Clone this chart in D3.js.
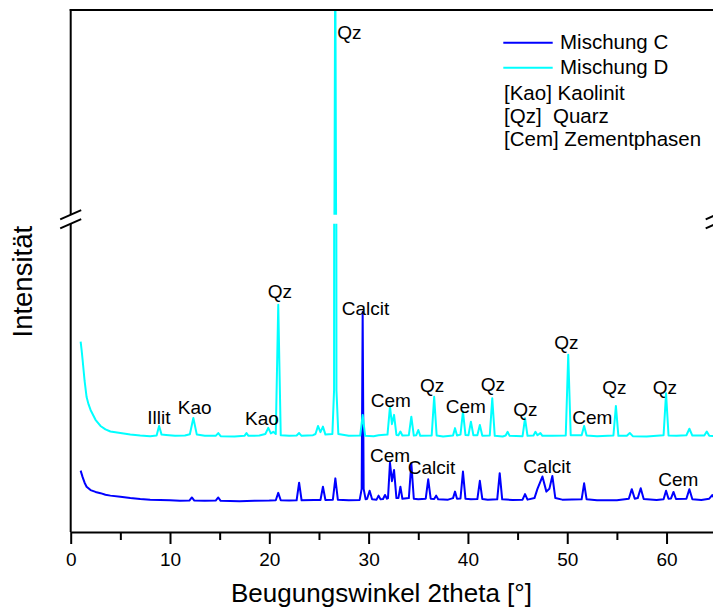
<!DOCTYPE html>
<html>
<head>
<meta charset="utf-8">
<script src="https://cdn.jsdelivr.net/npm/d3@7"></script>
<style>
  html, body { margin: 0; padding: 0; background: #fff; }
  svg { display: block; font-family: "Liberation Sans", Arial, sans-serif; }
  text { white-space: pre; }
</style>
</head>
<body>
<svg id="chart" width="713" height="609"></svg>
<script>
// XRD patterns: [2theta in degrees, intensity in counts]
const mischungC = [
  [1.0,199],[1.2,178],[1.4,160],[1.6,147],[2.0,136],[2.5,130],[3.0,126],[3.5,121],[4.0,118],
  [5.0,114],[6.0,110],[7.0,107],[8.0,105],[9.0,104],[10.0,103],[11.0,101],[11.95,102],[12.2,112],
  [12.45,102],[13.5,101],[14.6,102],[14.86,112],[15.1,101],[17.0,100],[18.5,101],[20.0,102],
  [20.65,103],[20.9,127],[21.15,103],[22.0,102],[22.75,103],[23.0,160],[23.25,103],[24.5,104],
  [25.15,104],[25.4,147],[25.65,104],[26.4,105],[26.65,174],[26.9,105],[28.0,103],[29.1,104],
  [29.3,140],[29.4,714],[29.5,140],[29.7,106],[29.85,108],[30.1,134],[30.35,106],[30.8,105],
  [31.0,118],[31.2,106],[31.45,107],[31.65,120],[31.85,108],[31.95,110],[32.15,225],[32.35,165],
  [32.56,201],[32.8,110],[33.0,110],[33.2,147],[33.4,108],[34.05,110],[34.3,223],[34.55,108],
  [35.0,106],[35.75,108],[36.0,171],[36.25,108],[36.6,107],[36.8,118],[37.0,106],[38.0,105],
  [38.5,110],[38.7,131],[38.9,108],[39.25,109],[39.5,196],[39.75,108],[40.3,106],[40.95,107],
  [41.2,166],[41.45,107],[42.0,105],[42.95,106],[43.2,191],[43.45,106],[44.5,104],[45.5,105],
  [45.75,123],[46.0,105],[46.7,110],[47.0,140],[47.5,180],[47.9,131],[48.2,140],[48.5,182],
  [48.8,110],[49.5,105],[51.45,106],[51.7,158],[51.95,106],[53.0,103],[55.0,103],[56.2,108],
  [56.5,139],[56.8,108],[57.1,110],[57.4,142],[57.7,107],[59.0,104],[59.7,106],[59.95,134],
  [60.2,108],[60.45,109],[60.7,130],[60.95,107],[62.0,108],[62.3,139],[62.6,106],[63.5,104],
  [64.3,108],[64.6,120],[64.9,106],[66.0,104]
];

const mischungD = [
  [1.0,418],[1.1,390],[1.2,358],[1.4,290],[1.6,238],[1.8,214],[2.0,196],[2.5,164],[3.0,144],
  [3.5,133],[4.0,126],[5.0,121],[6.0,116],[7.0,113],[8.0,111],[8.65,113],[8.9,144],[9.15,116],
  [9.6,115],[10.5,112],[11.5,113],[12.0,117],[12.35,170],[12.7,116],[13.5,112],[14.6,112],
  [14.86,121],[15.1,111],[16.5,110],[17.5,112],[17.7,121],[17.9,112],[19.0,113],[19.6,118],
  [19.9,138],[20.15,120],[20.4,125],[20.65,118],[20.9,537],[21.15,114],[22.0,112],[22.75,113],
  [23.0,121],[23.25,112],[24.4,114],[24.65,118],[24.9,144],[25.15,124],[25.4,142],[25.65,116],
  [26.35,118],[26.52,260],[26.64,7000],[26.76,260],[26.95,118],[28.0,112],[29.15,113],[29.4,180],
  [29.65,112],[30.5,111],[31.0,114],[31.9,116],[32.15,207],[32.35,150],[32.56,180],[32.8,115],
  [33.0,114],[33.2,126],[33.4,113],[34.05,114],[34.3,174],[34.55,113],[34.8,114],[35.0,131],
  [35.2,112],[36.35,113],[36.6,239],[36.85,113],[37.5,110],[38.5,113],[38.7,137],[38.9,113],
  [39.25,116],[39.5,191],[39.75,115],[40.05,114],[40.3,158],[40.55,114],[40.95,114],[41.2,147],
  [41.45,112],[42.2,113],[42.45,234],[42.7,112],[43.5,110],[43.8,113],[44.0,125],[44.2,112],
  [45.5,111],[45.75,169],[46.0,112],[46.6,113],[46.8,125],[47.0,114],[47.3,121],[47.5,112],
  [48.5,112],[49.85,113],[50.1,375],[50.35,114],[51.45,114],[51.7,144],[51.95,113],[53.0,111],
  [54.65,113],[54.9,209],[55.15,112],[56.0,112],[56.3,121],[56.6,111],[58.0,110],[59.7,114],
  [59.95,250],[60.2,113],[61.0,112],[62.0,114],[62.3,135],[62.6,113],[63.8,113],[64.05,126],
  [64.3,112],[66.0,111]
];

// vertical shift applied to Mischung D so both patterns are readable
const offsetD = 200;

const seriesNames = ["Mischung C", "Mischung D"];
const seriesColors = ["#0000ff", "#00ffff"];

// phase legend lines
const phaseLegend = ["[Kao] Kaolinit", "[Qz]  Quarz", "[Cem] Zementphasen"];

// peak annotations: text, 2theta of left edge, intensity of baseline (plotted units)
const peakLabels = [
  ["Illit", 7.71, 351], ["Kao", 10.78, 383], ["Kao", 17.55, 347], ["Qz", 19.84, 758],
  ["Calcit", 27.29, 703], ["Cem", 30.21, 406], ["Qz", 35.18, 455], ["Cem", 37.76, 385],
  ["Qz", 41.29, 459], ["Qz", 44.57, 378], ["Qz", 48.70, 594], ["Cem", 50.51, 351],
  ["Qz", 53.53, 448], ["Qz", 58.61, 448],
  ["Cem", 30.14, 226], ["Calcit", 33.94, 188], ["Calcit", 45.58, 190], ["Cem", 59.17, 149]
];
// label in the upper (broken) part of the axis
const upperLabels = [["Qz", 26.85, 5496]];

const majorTicks = [0, 10, 20, 30, 40, 50, 60];
const minorTicks = [5, 15, 25, 35, 45, 55, 65];

const xTitle = "Beugungswinkel 2theta [°]";
const yTitle = "Intensität";

// ---- layout ----
const plotLeft = 70.7, plotRight = 716.2, plotTop = 10, plotBottom = 532;
const breakLow = 223.8, breakHigh = 214.7;

const svg = d3.select("#chart");

const x = d3.scaleLinear().domain([0, 65]).range([plotLeft, plotRight]);
// broken intensity axis: lower and upper segment
const yLow = d3.scaleLinear().domain([0, 1000]).range([plotBottom, breakLow]);
const yHigh = d3.scaleLinear().domain([2500, 6000]).range([breakHigh, plotTop]);

const defs = svg.append("defs");
defs.append("clipPath").attr("id", "clipLow").append("rect")
  .attr("x", plotLeft).attr("y", breakLow).attr("width", plotRight - plotLeft).attr("height", plotBottom - breakLow);
defs.append("clipPath").attr("id", "clipHigh").append("rect")
  .attr("x", plotLeft).attr("y", plotTop).attr("width", plotRight - plotLeft).attr("height", breakHigh - plotTop);

const plotted = [
  mischungC.map(d => [d[0], d[1]]),
  mischungD.map(d => [d[0], d[1] + offsetD])
];

[["clipLow", yLow], ["clipHigh", yHigh]].forEach(([clip, y]) => {
  const g = svg.append("g").attr("clip-path", `url(#${clip})`);
  const line = d3.line().x(d => x(d[0])).y(d => y(d[1]));
  plotted.forEach((s, i) => {
    g.append("path").datum(s)
      .attr("d", line)
      .attr("fill", "none")
      .attr("stroke", seriesColors[i])
      .attr("stroke-width", 2)
      .attr("stroke-linejoin", "round");
  });
});

// ---- frame ----
const frame = svg.append("g").attr("stroke", "#000").attr("stroke-width", 2).attr("fill", "none");
frame.append("line").attr("x1", plotLeft - 1).attr("x2", plotRight).attr("y1", plotTop).attr("y2", plotTop);
frame.append("line").attr("x1", plotLeft).attr("x2", plotLeft).attr("y1", plotTop - 1).attr("y2", breakHigh);
frame.append("line").attr("x1", plotLeft).attr("x2", plotLeft).attr("y1", breakLow).attr("y2", plotBottom);
frame.append("line").attr("x1", plotRight).attr("x2", plotRight).attr("y1", plotTop - 1).attr("y2", breakHigh);
frame.append("line").attr("x1", plotRight).attr("x2", plotRight).attr("y1", breakLow).attr("y2", plotBottom);

// break marks
[plotLeft, plotRight].forEach(cx => {
  [breakHigh, breakLow].forEach(cy => {
    frame.append("line")
      .attr("x1", cx - 10.5).attr("y1", cy + 4.6)
      .attr("x2", cx + 10.5).attr("y2", cy - 4.6);
  });
});

// ---- x axis ----
const xAxis = svg.append("g")
  .attr("transform", `translate(0,${plotBottom})`)
  .call(d3.axisBottom(x).tickValues(majorTicks).tickSize(12).tickSizeOuter(0).tickPadding(9)
    .tickFormat(d3.format("d")));
xAxis.select(".domain").attr("stroke-width", 2);
xAxis.selectAll(".tick line").attr("stroke-width", 2);
xAxis.selectAll(".tick text").attr("font-size", 19).attr("font-family", "Liberation Sans, Arial, sans-serif").attr("fill", "#000");

const xMinor = svg.append("g")
  .attr("transform", `translate(0,${plotBottom})`)
  .call(d3.axisBottom(x).tickValues(minorTicks).tickSize(8).tickSizeOuter(0).tickFormat(""));
xMinor.select(".domain").remove();
xMinor.selectAll(".tick line").attr("stroke-width", 2);

// ---- axis titles ----
svg.append("text")
  .attr("x", 381.5).attr("y", 601.5)
  .attr("text-anchor", "middle").attr("font-size", 26)
  .text(xTitle);

svg.append("text")
  .attr("transform", `translate(31.5,${281.7}) rotate(-90)`)
  .attr("text-anchor", "middle").attr("font-size", 27.5)
  .text(yTitle);

// ---- peak labels ----
svg.append("g").selectAll("text").data(peakLabels).join("text")
  .attr("x", d => x(d[1])).attr("y", d => yLow(d[2]))
  .attr("font-size", 19)
  .text(d => d[0]);
svg.append("g").selectAll("text").data(upperLabels).join("text")
  .attr("x", d => x(d[1])).attr("y", d => yHigh(d[2]))
  .attr("font-size", 19)
  .text(d => d[0]);

// ---- legend ----
const legend = svg.append("g");
const legendRows = [42.7, 67.7];
seriesNames.forEach((name, i) => {
  legend.append("line")
    .attr("x1", 503.3).attr("x2", 552.7)
    .attr("y1", legendRows[i]).attr("y2", legendRows[i])
    .attr("stroke", seriesColors[i]).attr("stroke-width", 2);
  legend.append("text")
    .attr("x", 560).attr("y", legendRows[i] + 6.5)
    .attr("font-size", 20.5)
    .text(name);
});
const phaseBaselines = [100, 122.7, 146];
phaseLegend.forEach((t, i) => {
  legend.append("text")
    .attr("x", 504).attr("y", phaseBaselines[i])
    .attr("font-size", 20.5)
    .text(t);
});
</script>
</body>
</html>
